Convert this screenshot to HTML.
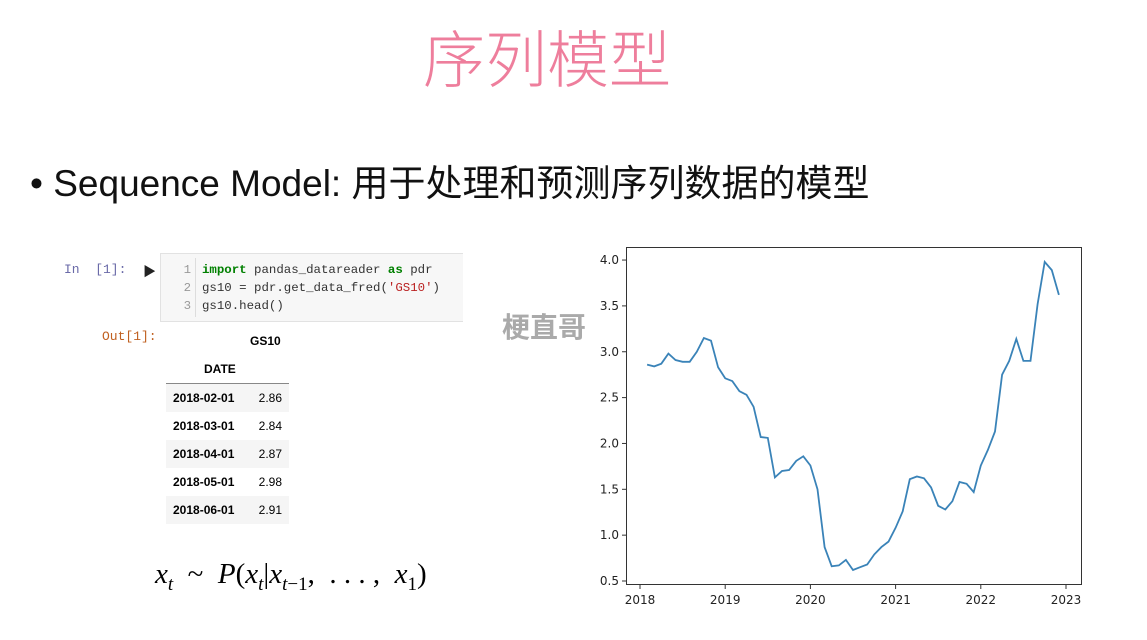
<!DOCTYPE html>
<html><head><meta charset="utf-8">
<style>
body{margin:0;width:1147px;height:640px;background:#fff;position:relative;overflow:hidden;font-family:"Liberation Sans","Noto Sans CJK SC",sans-serif}
.abs{position:absolute}
#title{left:0;width:1094px;text-align:center;top:18px;font-size:62px;color:#ee7e9c;font-weight:300;line-height:74px;font-family:"Noto Sans CJK SC","WenQuanYi Zen Hei",sans-serif}
#bullet{left:30px;top:161px;font-size:37px;color:#111;line-height:46px;white-space:nowrap}
.mono{font-family:"Liberation Mono","Noto Sans CJK SC",monospace}
#cell{left:160px;top:253px;width:302px;height:67px;background:#f7f7f7;border:1px solid #e2e2e2;border-right:none}
.ln{position:absolute;left:12px;width:18px;text-align:right;color:#999;font-size:12.4px}
.cd{position:absolute;left:41px;font-size:12.4px;color:#333;white-space:nowrap}
table{border-collapse:collapse;font-size:12px;color:#000}
td{height:28px;padding:0 7px}
sub{font-size:19px}
</style></head><body>
<div id="title" class="abs">序列模型</div>
<div id="bullet" class="abs">• Sequence Model: 用于处理和预测序列数据的模型</div>
<div class="abs mono" style="left:64px;top:262px;font-size:13px;color:#6a6aa8">In&nbsp;&nbsp;[1]:</div>
<div class="abs" style="left:143px;top:261px;font-size:13px;color:#222">▶︎</div>
<div id="cell" class="abs mono">
 <div style="position:absolute;left:34px;top:4px;bottom:4px;border-left:1px solid #ddd"></div>
 <div class="ln" style="top:9px">1</div><div class="ln" style="top:27px">2</div><div class="ln" style="top:45px">3</div>
 <div class="cd" style="top:9px"><span style="color:#008000;font-weight:bold">import</span> pandas_datareader <span style="color:#008000;font-weight:bold">as</span> pdr</div>
 <div class="cd" style="top:27px">gs10 = pdr.get_data_fred(<span style="color:#ba2121">'GS10'</span>)</div>
 <div class="cd" style="top:45px">gs10.head()</div>
</div>
<div class="abs mono" style="left:102px;top:329px;font-size:13px;color:#c06020">Out[1]:</div>
<div class="abs" style="left:250px;top:334px;font-size:12px;font-weight:bold">GS10</div>
<div class="abs" style="left:204px;top:362px;font-size:12px;font-weight:bold">DATE</div>
<div class="abs" style="left:166px;top:383px;width:123px;border-top:1px solid #888"></div>
<table class="abs" style="left:166px;top:384px;width:123px">
<tr style="background:#f5f5f5"><td><b>2018-02-01</b></td><td style="text-align:right">2.86</td></tr>
<tr><td><b>2018-03-01</b></td><td style="text-align:right">2.84</td></tr>
<tr style="background:#f5f5f5"><td><b>2018-04-01</b></td><td style="text-align:right">2.87</td></tr>
<tr><td><b>2018-05-01</b></td><td style="text-align:right">2.98</td></tr>
<tr style="background:#f5f5f5"><td><b>2018-06-01</b></td><td style="text-align:right">2.91</td></tr>
</table>
<div class="abs" style="left:155px;top:558px;font-size:29px;font-family:'Liberation Serif',serif;white-space:nowrap"><i>x<sub>t</sub></i>&nbsp; ~&nbsp; <i>P</i>(<i>x<sub>t</sub></i>|<i>x<sub>t</sub></i><sub>−1</sub>,&nbsp; . . . ,&nbsp; <i>x</i><sub>1</sub>)</div>
<div class="abs" style="left:502px;top:306px;font-size:28px;color:#aaa;font-weight:bold;font-family:'Noto Sans CJK SC',sans-serif">梗直哥</div>
<svg class="abs" style="left:0;top:0" width="1147" height="640" id="chart"></svg>
<script>
const startYear = 2018, startMonth = 2;
const values = [2.86,2.84,2.87,2.98,2.91,2.89,2.89,3.00,3.15,3.12,2.83,
2.71,2.68,2.57,2.53,2.40,2.07,2.06,1.63,1.70,1.71,1.81,1.86,
1.76,1.50,0.87,0.66,0.67,0.73,0.62,0.65,0.68,0.79,0.87,0.93,
1.08,1.26,1.61,1.64,1.62,1.52,1.32,1.28,1.37,1.58,1.56,1.47,
1.76,1.93,2.13,2.75,2.90,3.14,2.90,2.90,3.52,3.98,3.89,3.62];
const yTicks = ["0.5","1.0","1.5","2.0","2.5","3.0","3.5","4.0"];
const xTicks = ["2018","2019","2020","2021","2022","2023"];
const NS="http://www.w3.org/2000/svg", svg=document.getElementById('chart');
const X = t => 640 + (t-2018)*85.2;
const Y = v => 581 - (v-0.5)*91.7;
function mk(tag, a){const e=document.createElementNS(NS,tag);for(const k in a)e.setAttribute(k,a[k]);svg.appendChild(e);return e;}
const frame=mk('rect',{x:626.5,y:247.5,width:455,height:337,fill:'none',stroke:'#333','stroke-width':1});


yTicks.forEach(s=>{const v=parseFloat(s),y=Y(v);
 mk('line',{x1:622,x2:626,y1:y,y2:y,stroke:'#333'});
 const t=mk('text',{x:619,y:y+4,'text-anchor':'end','font-size':12,fill:'#222','font-family':'DejaVu Sans'});t.textContent=s;
 
 });
xTicks.forEach(s=>{const x=X(parseFloat(s));
 mk('line',{x1:x,x2:x,y1:585,y2:589,stroke:'#333'});
 const t=mk('text',{x:x,y:604,'text-anchor':'middle','font-size':12,fill:'#222','font-family':'DejaVu Sans'});t.textContent=s;
 
 });
const pts=values.map((v,i)=>X(startYear+(startMonth-1+i)/12).toFixed(1)+','+Y(v).toFixed(1)).join(' ');
const line=mk('polyline',{points:pts,fill:'none',stroke:'#3a83b8','stroke-width':1.8});


</script>
</body></html>
